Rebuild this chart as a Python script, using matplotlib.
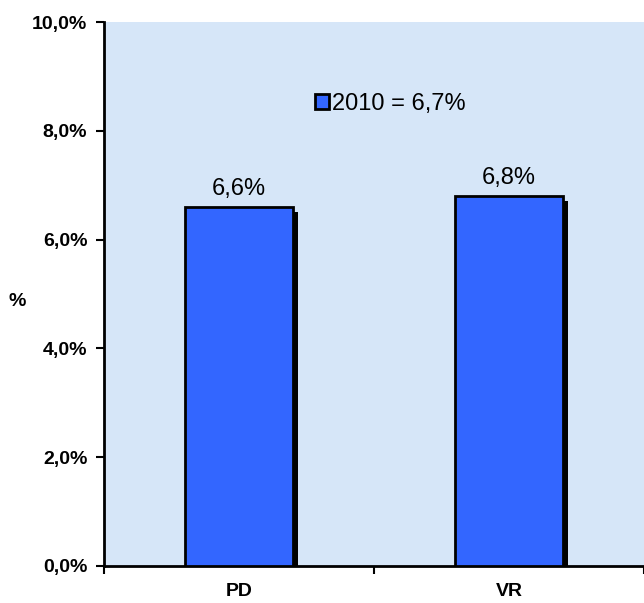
import matplotlib.pyplot as plt
import matplotlib.patheffects as pe
from matplotlib.ticker import FuncFormatter

categories = ["PD", "VR"]
values = [6.6, 6.8]
legend_label = "2010 = 6,7%"
yticks = [0, 2, 4, 6, 8, 10]

plt.rcParams['font.family'] = ['Liberation Sans', 'DejaVu Sans']

fig = plt.figure(figsize=(6.44, 6.03), dpi=100)
ax = fig.add_axes([0.1615, 0.0614, 0.8385, 0.9021])
ax.set_facecolor('#d6e6f8')

x = list(range(len(categories)))
bars = ax.bar(x, values, width=0.4, color='#3366ff', edgecolor='black',
              linewidth=2, label=legend_label, zorder=3)
for b in bars:
    b.set_path_effects([pe.SimplePatchShadow(offset=(3.5, -3.5), shadow_rgbFace='black', alpha=1.0),
                        pe.Normal()])

for xi, v in zip(x, values):
    ax.text(xi, v + 0.13, f"{v:.1f}%".replace('.', ','), ha='center', va='bottom',
            fontsize=17, color='black')

ax.set_xlim(-0.5, len(categories) - 0.5)
ax.set_ylim(0, 10)
ax.set_yticks(yticks)
ax.yaxis.set_major_formatter(FuncFormatter(lambda v, p: f"{v:.1f}%".replace('.', ',')))
ax.set_xticks([i - 0.5 for i in range(len(categories) + 1)])
ax.set_xticklabels([])
ax.set_xticks(x, minor=True)
ax.set_xticklabels(categories, minor=True, fontsize=14, fontweight='bold')
ax.tick_params(axis='x', which='minor', length=0, pad=12)
ax.tick_params(axis='x', which='major', length=6, width=1.5, direction='out')
ax.tick_params(axis='y', length=6, width=1.5, direction='out', labelsize=14, pad=6)
for lab in ax.get_yticklabels():
    lab.set_fontweight('bold')

for s in ['top', 'right']:
    ax.spines[s].set_visible(False)
for s in ['left', 'bottom']:
    ax.spines[s].set_linewidth(2)

ax.set_ylabel('%', rotation=0, fontsize=14, fontweight='bold', labelpad=0)
ax.yaxis.set_label_coords(-0.16, 0.47)

leg = ax.legend(loc='center', bbox_to_anchor=(0.53, 0.85), frameon=False,
                fontsize=17, handlelength=0.6, handleheight=0.6, handletextpad=0.15)
for h in leg.legend_handles:
    h.set_path_effects([])

fig.savefig('out.png', dpi=100)
